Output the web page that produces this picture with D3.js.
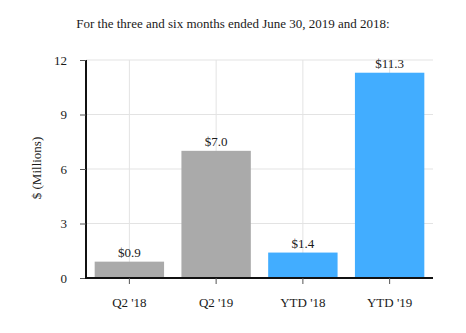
<!DOCTYPE html>
<html><head><meta charset="utf-8">
<script src="https://cdn.jsdelivr.net/npm/d3@7"></script>
<style>body{margin:0;background:#fff}svg{display:block}text{font-family:"Liberation Serif","Times New Roman",serif;fill:#1a1a1a}</style>
</head><body><svg id="c" width="466" height="333"></svg>
<script>
const categories = ["Q2 '18", "Q2 '19", "YTD '18", "YTD '19"];
const values = [0.9, 7.0, 1.4, 11.3];
const labels = ["$0.9", "$7.0", "$1.4", "$11.3"];
const colors = ["#aaaaaa", "#aaaaaa", "#42adff", "#42adff"];
const yTicks = [0, 3, 6, 9, 12];
const title = "For the three and six months ended June 30, 2019 and 2018:";

const svg = d3.select("#c");
const m = {l: 86, r: 33, t: 60, b: 55};
const W = 466, H = 333;
const x = d3.scaleBand().domain(categories).range([m.l, W - m.r]).paddingInner(0.2).paddingOuter(0.1);
const y = d3.scaleLinear().domain([0, 12]).range([H - m.b, m.t]);

// grid
svg.append("g").selectAll("line.h").data(yTicks.slice(1)).join("line")
  .attr("x1", m.l).attr("x2", W - m.r).attr("y1", d => y(d)).attr("y2", d => y(d))
  .attr("stroke", "#e3e3e3").attr("stroke-width", 1);
svg.append("g").selectAll("line.v").data(categories).join("line")
  .attr("x1", d => x(d) + x.bandwidth()/2).attr("x2", d => x(d) + x.bandwidth()/2)
  .attr("y1", m.t).attr("y2", H - m.b)
  .attr("stroke", "#e3e3e3").attr("stroke-width", 1);

// title
svg.append("text").attr("x", 233).attr("y", 28).attr("text-anchor", "middle")
  .style("font-size", "13px").text(title);

// bars
svg.append("g").selectAll("rect").data(values).join("rect")
  .attr("x", (d, i) => x(categories[i])).attr("width", x.bandwidth())
  .attr("y", d => y(d)).attr("height", d => y(0) - y(d))
  .attr("fill", (d, i) => colors[i]);

// value labels
svg.append("g").selectAll("text").data(values).join("text")
  .attr("x", (d, i) => x(categories[i]) + x.bandwidth()/2)
  .attr("y", d => y(d) - 5).attr("text-anchor", "middle")
  .style("font-size", "13px").text((d, i) => labels[i]);

// y axis
const ya = svg.append("g").attr("transform", `translate(${m.l},0)`)
  .call(d3.axisLeft(y).tickValues(yTicks).tickSize(6).tickPadding(13));
ya.select(".domain").attr("stroke", "#111").attr("stroke-width", 2).attr("d", `M0,${m.t}V${H - m.b}`);
ya.selectAll(".tick line").attr("stroke", "#555");
ya.selectAll("text").style("font-size", "13px").attr("fill", "#1a1a1a").style("font-family", '"Liberation Serif",serif');

// x axis
const xa = svg.append("g").attr("transform", `translate(0,${H - m.b})`)
  .call(d3.axisBottom(x).tickSize(6).tickPadding(14));
xa.select(".domain").attr("stroke", "#111").attr("stroke-width", 2).attr("d", `M${m.l - 1},0H${W - m.r}`);
xa.selectAll(".tick line").attr("stroke", "#555");
xa.selectAll("text").style("font-size", "13px").attr("fill", "#1a1a1a").style("font-family", '"Liberation Serif",serif');

// y label
svg.append("text").attr("transform", "translate(41,168) rotate(-90)")
  .attr("text-anchor", "middle").style("font-size", "13px").text("$ (Millions)");
</script></body></html>
